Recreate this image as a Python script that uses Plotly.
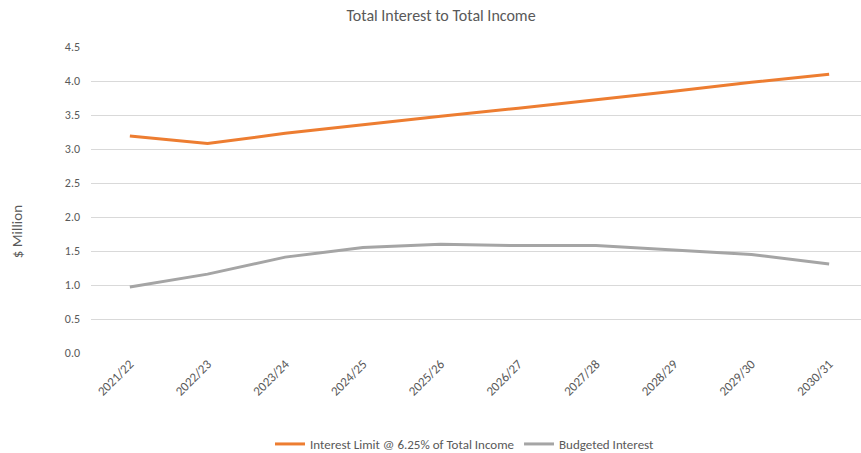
import plotly.graph_objects as go

categories = ["2021/22", "2022/23", "2023/24", "2024/25", "2025/26",
              "2026/27", "2027/28", "2028/29", "2029/30", "2030/31"]
interest_limit = [3.19, 3.08, 3.23, 3.36, 3.48, 3.60, 3.72, 3.85, 3.98, 4.10]
budgeted_interest = [0.97, 1.16, 1.41, 1.55, 1.60, 1.58, 1.58, 1.52, 1.45, 1.31]
y_ticks = [0.0, 0.5, 1.0, 1.5, 2.0, 2.5, 3.0, 3.5, 4.0, 4.5]

FONT = "Carlito, 'Liberation Sans Narrow', Lato, 'Liberation Sans', Arial, sans-serif"
TXT = "#595959"

fig = go.Figure()
fig.add_trace(go.Scatter(x=list(range(len(categories))), y=interest_limit, mode="lines",
                         name="Interest Limit @ 6.25% of Total Income",
                         line=dict(color="#ED7D31", width=3)))
fig.add_trace(go.Scatter(x=list(range(len(categories))), y=budgeted_interest, mode="lines",
                         name="Budgeted Interest",
                         line=dict(color="#A5A5A5", width=3)))

fig.update_layout(
    width=861, height=453,
    margin=dict(l=91, r=0, t=47, b=100),
    paper_bgcolor="white", plot_bgcolor="white",
    font=dict(family=FONT, size=12, color=TXT),
    title=dict(text="Total Interest to Total Income", x=441/861, xref="container",
               xanchor="center", y=1-15/453, yref="container", yanchor="middle",
               font=dict(size=16, color=TXT, family=FONT)),
    showlegend=True,
    legend=dict(orientation="h", x=465/861, xref="container", xanchor="center",
                y=1-444/453, yref="container", yanchor="middle",
                font=dict(size=13, color=TXT, family=FONT), itemwidth=30,
                traceorder="normal"),
    xaxis=dict(range=[-0.5, 9.41], tickmode="array",
               tickvals=list(range(len(categories))), ticktext=categories,
               tickangle=-45, showgrid=False, zeroline=False, showline=False,
               ticks="", tickfont=dict(size=13, color=TXT)),
    yaxis=dict(range=[0, 4.5], tickmode="array", tickvals=y_ticks,
               ticktext=[f"{v:.1f}" for v in y_ticks],
               showgrid=True, gridcolor="#D9D9D9", gridwidth=1,
               zeroline=False, showline=False, ticks="", ticklabelstandoff=10,
               tickfont=dict(size=12, color=TXT)),
    annotations=[dict(text="$ Million", textangle=-90, xref="paper", yref="paper",
                      x=(17-91)/770, y=(352.7-232)/306, xanchor="center", yanchor="middle",
                      showarrow=False, font=dict(size=15, color=TXT, family=FONT))],
)

fig.write_html("out.html")
